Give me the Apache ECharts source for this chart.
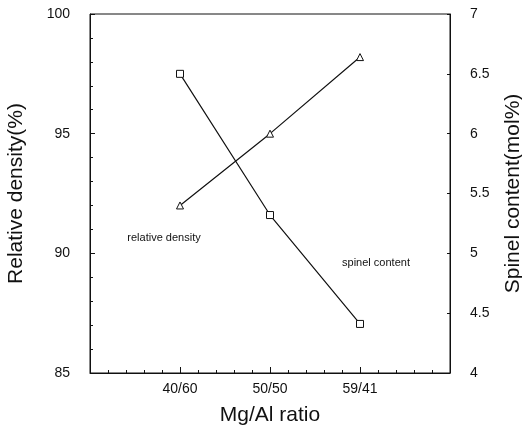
<!DOCTYPE html>
<html>
<head>
<meta charset="utf-8">
<script src="https://cdn.jsdelivr.net/npm/echarts@6/dist/echarts.min.js"></script>
<style>
  html, body { margin: 0; padding: 0; background: #fff; }
  #chart { width: 522px; height: 432px; }
</style>
</head>
<body>
<div id="chart"></div>
<script>
// Mg/Al ratio groups, placed at x = 1, 2, 3 on a 0..4 axis
const categories = ["40/60", "50/50", "59/41"];
const categoryPos = [1, 2, 3];
const relativeDensity = [92.0, 95.0, 98.2];   // left axis, %
const spinelContent = [6.5, 5.32, 4.41];      // right axis, mol%

const chart = echarts.init(document.getElementById("chart"));

const tickFont = { fontFamily: "Liberation Sans", fontSize: 14, color: "#111" };
const nameFont = { fontFamily: "Liberation Sans", fontSize: 21, color: "#111", fontWeight: "normal" };
const noteFont = { fontFamily: "Liberation Sans", fontSize: 11, color: "#111" };

const densityData = categoryPos.map((x, i) => {
  const item = { value: [x, relativeDensity[i]] };
  if (i === 0) {
    item.label = Object.assign({ show: true, formatter: "relative density", position: "bottom", offset: [-16, 18] }, noteFont);
  }
  return item;
});

const spinelData = categoryPos.map((x, i) => {
  const item = { value: [x, spinelContent[i]] };
  if (i === categoryPos.length - 1) {
    item.label = Object.assign({ show: true, formatter: "spinel content", position: "top", offset: [16, -46] }, noteFont);
  }
  return item;
});

const option = {
  animation: false,
  grid: {
    left: 90, right: 72, top: 14, bottom: 59,
    outerBoundsMode: "none", containLabel: false,
    show: true, borderColor: "#111", borderWidth: 1
  },
  xAxis: {
    type: "value", min: 0, max: 4, interval: 1,
    name: "Mg/Al ratio", nameLocation: "middle", nameGap: 32, nameTextStyle: nameFont,
    axisLine: { lineStyle: { color: "#111" } },
    axisTick: { inside: true, length: 6, lineStyle: { color: "#111" } },
    minorTick: { show: true, splitNumber: 5, length: 3, lineStyle: { color: "#111" } },
    splitLine: { show: false },
    axisLabel: Object.assign({}, tickFont, {
      margin: 9,
      formatter: (v) => { const i = categoryPos.indexOf(v); return i >= 0 ? categories[i] : ""; }
    })
  },
  yAxis: [
    {
      type: "value", min: 85, max: 100, interval: 5, position: "left",
      name: "Relative density(%)", nameLocation: "middle", nameGap: 63, nameRotate: 90, nameTextStyle: nameFont,
      axisLine: { lineStyle: { color: "#111" } },
      axisTick: { inside: true, length: 5, lineStyle: { color: "#111" } },
      minorTick: { show: true, splitNumber: 5, length: 3, lineStyle: { color: "#111" } },
      splitLine: { show: false },
      axisLabel: Object.assign({}, tickFont, { margin: 20 })
    },
    {
      type: "value", min: 4, max: 7, interval: 0.5, position: "right",
      name: "Spinel content(mol%)", nameLocation: "middle", nameGap: 53, nameRotate: 90, nameTextStyle: nameFont,
      axisLine: { lineStyle: { color: "#111" } },
      axisTick: { inside: true, length: 3, lineStyle: { color: "#111" } },
      splitLine: { show: false },
      axisLabel: Object.assign({}, tickFont, { margin: 20 })
    }
  ],
  series: [
    {
      name: "relative density", type: "line", yAxisIndex: 0,
      data: densityData,
      symbol: "triangle", symbolSize: 7,
      itemStyle: { color: "#fff", borderColor: "#111", borderWidth: 1 },
      lineStyle: { color: "#111", width: 1.2 }
    },
    {
      name: "spinel content", type: "line", yAxisIndex: 1,
      data: spinelData,
      symbol: "rect", symbolSize: 7,
      itemStyle: { color: "#fff", borderColor: "#111", borderWidth: 1 },
      lineStyle: { color: "#111", width: 1.2 }
    }
  ]
};

chart.setOption(option);
</script>
</body>
</html>
